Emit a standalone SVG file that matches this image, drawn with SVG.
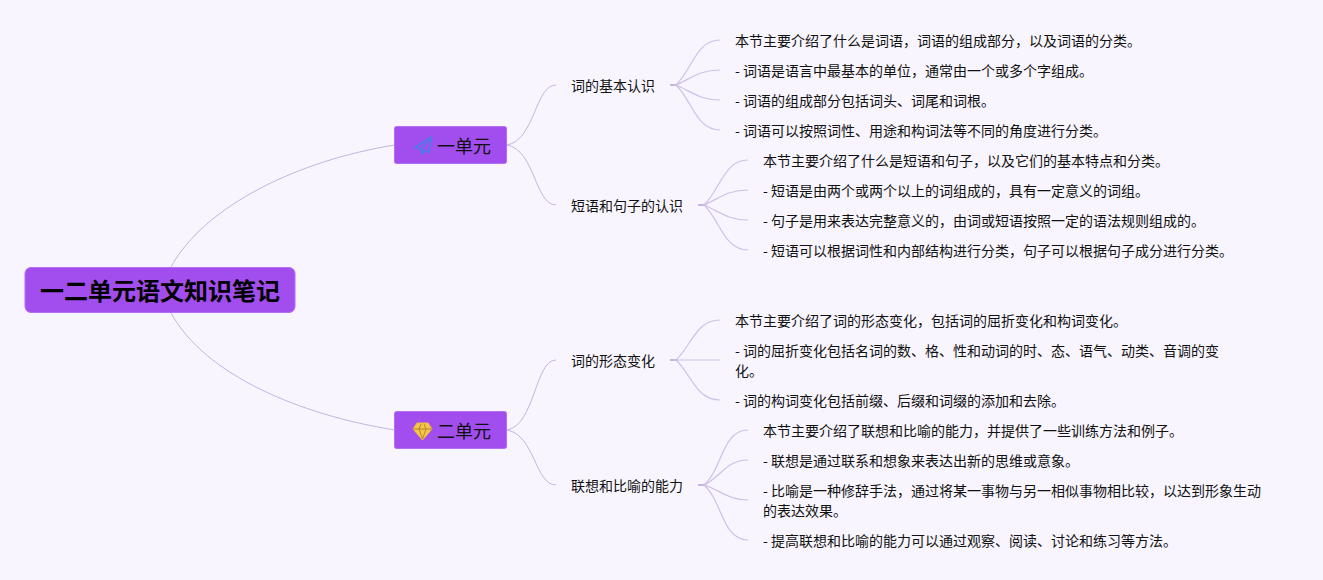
<svg xmlns="http://www.w3.org/2000/svg" width="1323" height="580" viewBox="0 0 1323 580">
<style>
text{font-family:"Noto Sans CJK SC","Noto Sans",sans-serif;fill:#111}
.t{font-size:14px}
.u{font-size:18px}
.r{font-size:24px;font-weight:700;fill:#000}
.box{fill:#a24ded;stroke:#b46ef2;stroke-width:1}
.c{fill:none;stroke:#c3b5e0;stroke-width:1}
.m{fill:none;stroke:#cfc0e8;stroke-width:1.2}
.s{fill:none;stroke:#c9b4e6;stroke-width:2}
</style>
<rect width="1323" height="580" fill="#f8f5fe"/>
<g id="connectors">
<path class="c" d="M171 267C205 205 300 160 395 145"/>
<path class="c" d="M171 313C205 375 300 415 395 430"/>
<path class="c" d="M507 145C535 140 535 85 556 85"/>
<path class="c" d="M507 145C535 150 535 205 556 205"/>
<path class="c" d="M507 430C535 425 535 360 556 360"/>
<path class="c" d="M507 430C535 435 535 485 556 485"/>
<path class="s" d="M670 85H678M698 205H706M670 360H678M698 485H706"/>
<path class="m" d="M676 85C692 70 696 40 720 40"/>
<path class="m" d="M676 85C692 78 700 70 720 70"/>
<path class="m" d="M676 85C692 92 700 100 720 100"/>
<path class="m" d="M676 85C692 100 696 130 720 130"/>
<path class="m" d="M704 205C720 190 724 160 748 160"/>
<path class="m" d="M704 205C720 198 728 190 748 190"/>
<path class="m" d="M704 205C720 212 728 220 748 220"/>
<path class="m" d="M704 205C720 220 724 250 748 250"/>
<path class="m" d="M676 360C692 345 696 320 720 320"/>
<path class="m" d="M676 360H720"/>
<path class="m" d="M676 360C692 375 696 400 720 400"/>
<path class="m" d="M704 485C722 470 722 430 748 430"/>
<path class="m" d="M704 485C720 478 726 460 748 460"/>
<path class="m" d="M704 485C720 490 728 500 748 500"/>
<path class="m" d="M704 485C722 500 722 540 748 540"/>
</g>
<g id="root"><rect class="box" x="25" y="267.500" width="270" height="45" rx="6"/><text class="r" x="40" y="300">一二单元语文知识笔记</text></g>
<g id="u1"><rect class="box" x="394.500" y="126.500" width="112" height="37" rx="2"/>
<path d="M431.500 137L415 147.500L421 149L429 152.500Z" fill="none" stroke="#4f7ae8" stroke-width="1.800" stroke-linejoin="round"/><path d="M431.500 137L421 149L422 154L425 150.500" fill="none" stroke="#4f7ae8" stroke-width="1.500" stroke-linejoin="round"/>
<text class="u" x="437" y="153">一单元</text></g>
<g id="u2"><rect class="box" x="394.500" y="411.500" width="112" height="37" rx="2"/>
<path d="M417 423H428L432 429L422.500 440L413 429Z" fill="#f5c746" stroke="#f2b93a" stroke-width="1" stroke-linejoin="round"/><path d="M413 429H432M419 429L422.500 439L426 429M419 429L421 424M426 429L424 424" fill="none" stroke="#a8703c" stroke-width=".8"/>
<text class="u" x="437" y="438">二单元</text></g>
<g id="s1"><text class="t" x="571" y="91">词的基本认识</text></g>
<g id="s2"><text class="t" x="571" y="211">短语和句子的认识</text></g>
<g id="s3"><text class="t" x="571" y="366">词的形态变化</text></g>
<g id="s4"><text class="t" x="571" y="491">联想和比喻的能力</text></g>
<g id="l1"><text class="t" x="735" y="46">本节主要介绍了什么是词语，词语的组成部分，以及词语的分类。</text></g>
<g id="l2"><text class="t" x="735" y="76">- 词语是语言中最基本的单位，通常由一个或多个字组成。</text></g>
<g id="l3"><text class="t" x="735" y="106">- 词语的组成部分包括词头、词尾和词根。</text></g>
<g id="l4"><text class="t" x="735" y="136">- 词语可以按照词性、用途和构词法等不同的角度进行分类。</text></g>
<g id="l5"><text class="t" x="763" y="166">本节主要介绍了什么是短语和句子，以及它们的基本特点和分类。</text></g>
<g id="l6"><text class="t" x="763" y="196">- 短语是由两个或两个以上的词组成的，具有一定意义的词组。</text></g>
<g id="l7"><text class="t" x="763" y="226">- 句子是用来表达完整意义的，由词或短语按照一定的语法规则组成的。</text></g>
<g id="l8"><text class="t" x="763" y="256">- 短语可以根据词性和内部结构进行分类，句子可以根据句子成分进行分类。</text></g>
<g id="l9"><text class="t" x="735" y="326">本节主要介绍了词的形态变化，包括词的屈折变化和构词变化。</text></g>
<g id="l10"><text class="t" x="735" y="356">- 词的屈折变化包括名词的数、格、性和动词的时、态、语气、动类、音调的变</text><text class="t" x="735" y="376">化。</text></g>
<g id="l11"><text class="t" x="735" y="406">- 词的构词变化包括前缀、后缀和词缀的添加和去除。</text></g>
<g id="l12"><text class="t" x="763" y="436">本节主要介绍了联想和比喻的能力，并提供了一些训练方法和例子。</text></g>
<g id="l13"><text class="t" x="763" y="466">- 联想是通过联系和想象来表达出新的思维或意象。</text></g>
<g id="l14"><text class="t" x="763" y="496">- 比喻是一种修辞手法，通过将某一事物与另一相似事物相比较，以达到形象生动</text><text class="t" x="763" y="516">的表达效果。</text></g>
<g id="l15"><text class="t" x="763" y="546">- 提高联想和比喻的能力可以通过观察、阅读、讨论和练习等方法。</text></g>
</svg>
